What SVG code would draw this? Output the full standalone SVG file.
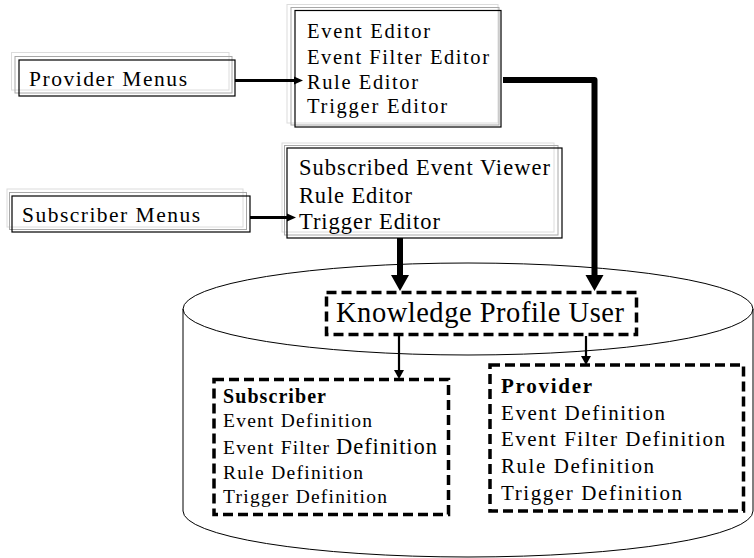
<svg xmlns="http://www.w3.org/2000/svg" width="754" height="558" viewBox="0 0 754 558">
  <style>
    text { font-family: "Liberation Serif", "Times New Roman", serif; fill: #000; }
    .b { font-weight: bold; }
    .sh1 { fill: none; stroke: #dcdcdc; stroke-width: 1; }
    .sh2 { fill: none; stroke: #a8a8a8; stroke-width: 1; }
    .frame { fill: none; stroke: #000; stroke-width: 1.2; }
    .dash { fill: none; stroke: #000; stroke-width: 3.5; stroke-dasharray: 10 5; }
    .thick { fill: none; stroke: #000; stroke-width: 6; }
    .mid { fill: none; stroke: #000; stroke-width: 3.2; }
    .thin { fill: none; stroke: #000; stroke-width: 2.2; }
    .cyl { fill: none; stroke: #000; stroke-width: 1; }
  </style>
  <defs>
    <marker id="headBig" markerUnits="userSpaceOnUse" markerWidth="18" markerHeight="20" viewBox="0 -10 18 20" refX="0" refY="0" orient="auto">
      <path d="M0,-9 L16,0 L0,9 z" fill="#000"/>
    </marker>
    <marker id="headMid" markerUnits="userSpaceOnUse" markerWidth="10" markerHeight="10" viewBox="0 -5 10 10" refX="0" refY="0" orient="auto">
      <path d="M0,-4 L9,0 L0,4 z" fill="#000"/>
    </marker>
    <marker id="headSmall" markerUnits="userSpaceOnUse" markerWidth="10" markerHeight="12" viewBox="0 -6 10 12" refX="0" refY="0" orient="auto">
      <path d="M0,-5 L9,0 L0,5 z" fill="#000"/>
    </marker>
  </defs>

  <!-- knowledge store cylinder -->
  <g id="store">
    <ellipse class="cyl" cx="468" cy="309" rx="285" ry="46"/>
    <path class="cyl" d="M183,309 V511 A285,46 0 0 0 753,511 V309"/>
  </g>

  <g id="provider-menus">
    <rect class="sh1" x="11.5" y="52.5" width="217.5" height="37.5"/>
    <rect class="sh2" x="15" y="56.5" width="217" height="36.5"/>
    <rect class="frame" x="19" y="60" width="216" height="36"/>
    <text x="29" y="86" font-size="21.5" textLength="158" lengthAdjust="spacing">Provider Menus</text>
  </g>

  <g id="provider-editors">
    <rect class="sh1" x="287" y="4.5" width="211" height="118.5"/>
    <rect class="sh2" x="291" y="7.5" width="208" height="117.5"/>
    <rect class="frame" x="295" y="10.5" width="206" height="116.5"/>
    <text x="307" y="38" font-size="20.5" textLength="123" lengthAdjust="spacing">Event Editor</text>
    <text x="307" y="63.5" font-size="20.5" textLength="182" lengthAdjust="spacing">Event Filter Editor</text>
    <text x="307" y="88.5" font-size="20.5" textLength="111" lengthAdjust="spacing">Rule Editor</text>
    <text x="307" y="113" font-size="20.5" textLength="140" lengthAdjust="spacing">Trigger Editor</text>
  </g>

  <g id="subscriber-menus">
    <rect class="sh1" x="7" y="189" width="236" height="38"/>
    <rect class="sh2" x="9.5" y="192.5" width="237" height="37"/>
    <rect class="frame" x="12" y="196" width="238" height="36"/>
    <text x="22" y="222" font-size="21.5" textLength="178" lengthAdjust="spacing">Subscriber Menus</text>
  </g>

  <g id="subscriber-editors">
    <rect class="sh1" x="282" y="143" width="272" height="89"/>
    <rect class="sh2" x="284.5" y="145.5" width="273.5" height="89.5"/>
    <rect class="frame" x="287" y="148" width="275" height="90"/>
    <text x="299" y="175" font-size="22.5" textLength="251" lengthAdjust="spacing">Subscribed Event Viewer</text>
    <text x="299" y="202.5" font-size="22.5" textLength="113" lengthAdjust="spacing">Rule Editor</text>
    <text x="299" y="229" font-size="22.5" textLength="141" lengthAdjust="spacing">Trigger Editor</text>
  </g>

  <g id="knowledge-profile-user">
    <rect class="dash" x="326.5" y="292.5" width="310" height="42"/>
    <text x="336" y="322" font-size="28.5" textLength="288" lengthAdjust="spacing">Knowledge Profile User</text>
  </g>

  <g id="subscriber-definitions">
    <rect class="dash" x="214" y="379.5" width="234.5" height="135"/>
    <text class="b" x="223" y="403" font-size="20" textLength="103" lengthAdjust="spacing">Subscriber</text>
    <text x="223" y="427" font-size="19.5" textLength="149" lengthAdjust="spacing">Event Definition</text>
    <text y="454" font-size="19.5"><tspan x="223" textLength="106" lengthAdjust="spacing">Event Filter</tspan> <tspan x="336" font-size="22.5" textLength="101" lengthAdjust="spacing">Definition</tspan></text>
    <text x="223" y="479" font-size="19.5" textLength="140" lengthAdjust="spacing">Rule Definition</text>
    <text x="223" y="503" font-size="19.5" textLength="164" lengthAdjust="spacing">Trigger Definition</text>
  </g>

  <g id="provider-definitions">
    <rect class="dash" x="490" y="365" width="253.5" height="146"/>
    <text class="b" x="501" y="393" font-size="21" textLength="91" lengthAdjust="spacing">Provider</text>
    <text x="501" y="419.5" font-size="21" textLength="164" lengthAdjust="spacing">Event Definition</text>
    <text x="501" y="446" font-size="21" textLength="224" lengthAdjust="spacing">Event Filter Definition</text>
    <text x="501" y="473" font-size="21" textLength="153" lengthAdjust="spacing">Rule Definition</text>
    <text x="501" y="500" font-size="21" textLength="181" lengthAdjust="spacing">Trigger Definition</text>
  </g>

  <g id="connectors">
    <path class="mid" d="M235,80.5 H294" marker-end="url(#headMid)"/>
    <path class="mid" d="M250,217.5 H287" marker-end="url(#headMid)"/>
    <path class="thick" stroke-linejoin="round" d="M503,80 H594.5 V275" marker-end="url(#headBig)"/>
    <path class="thick" d="M400,238 V275" marker-end="url(#headBig)"/>
    <path class="thin" d="M399,336 V370" marker-end="url(#headSmall)"/>
    <path class="thin" d="M586,336 V356" marker-end="url(#headSmall)"/>
  </g>
</svg>
